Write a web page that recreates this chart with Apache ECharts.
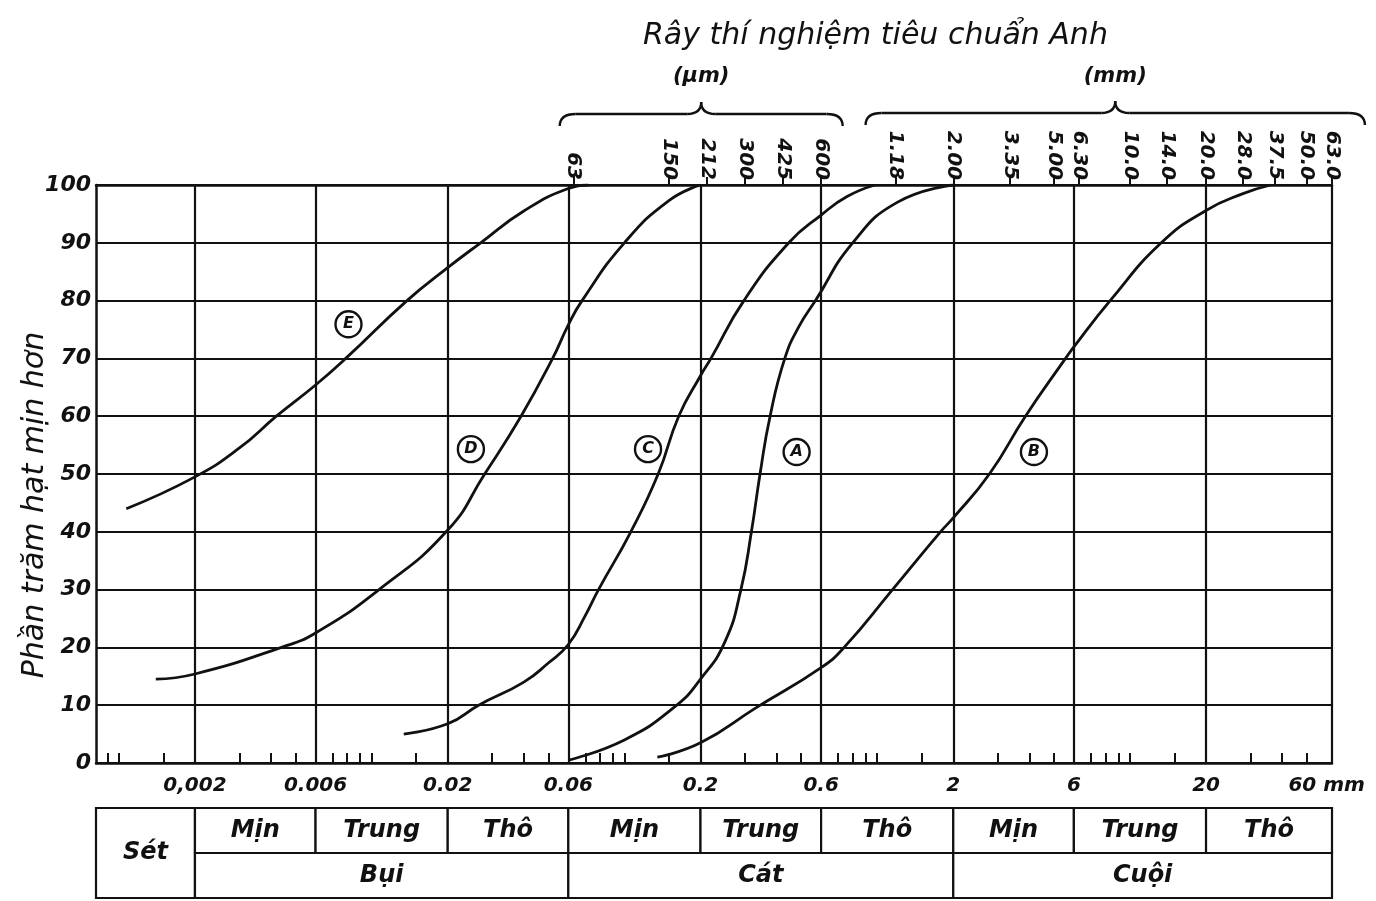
<!DOCTYPE html>
<html>
<head>
<meta charset="utf-8">
<title>Rây thí nghiệm tiêu chuẩn Anh</title>
<script src="https://cdn.jsdelivr.net/npm/echarts@6/dist/echarts.min.js"></script>
<style>
  html, body { margin: 0; padding: 0; background: #fff; }
  #chart { width: 1376px; height: 901px; }
</style>
</head>
<body>
<div id="chart"></div>
<script>
// grain size curves: [size in mm, % finer]
const curveA = [[0.06, 0.5], [0.1, 4], [0.158, 9.7], [0.2, 14.5], [0.25, 21], [0.289, 30], [0.318, 40], [0.344, 50], [0.377, 60], [0.431, 70], [0.49, 75.5], [0.57, 80], [0.8, 90], [1.2, 97], [2.0, 100]];
const curveB = [[0.135, 1], [0.2, 3.5], [0.33, 9.5], [0.6, 16.5], [0.74, 20], [1.15, 30], [1.78, 40], [2, 42.4], [2.78, 50], [3.86, 60], [5.56, 70], [6, 72], [8.35, 80], [13.3, 90], [20, 95.6], [28, 98.5], [36, 100]];
const curveC = [[0.0134, 5], [0.02, 6.8], [0.0265, 10], [0.04, 14], [0.05, 17.3], [0.06, 20.5], [0.07, 25.5], [0.079, 30], [0.106, 40], [0.136, 50], [0.164, 60], [0.2, 67], [0.22, 70], [0.297, 80], [0.447, 90], [0.6, 94.8], [0.76, 98], [0.98, 100]];
const curveD = [[0.0014, 14.5], [0.002, 15.4], [0.0044, 20], [0.006, 22.5], [0.0107, 30], [0.02, 40.3], [0.028, 50], [0.039, 60], [0.052, 70], [0.06, 75.8], [0.068, 80], [0.1, 90], [0.15, 97.3], [0.2, 100]];
const curveE = [[0.00107, 44], [0.002, 49.5], [0.003, 54.5], [0.0042, 60], [0.006, 65.4], [0.0079, 70], [0.0138, 80], [0.02, 85.7], [0.027, 90], [0.04, 95.5], [0.06, 99.4], [0.072, 100]];

// circled curve names
const markerNames = ['E', 'D', 'C', 'A', 'B'];
const markerSizes = [0.0081, 0.0247, 0.124, 0.48, 4.17];
const markerPercents = [75.9, 54.3, 54.3, 53.8, 53.8];

// bottom axis
const gridSizes = [0.002, 0.006, 0.02, 0.06, 0.2, 0.6, 2, 6, 20, 63];
const bottomLabelSizes = [0.002, 0.006, 0.02, 0.06, 0.2, 0.6, 2, 6, 20, 60];
const bottomLabels = ['0,002', '0.006', '0.02', '0.06', '0.2', '0.6', '2', '6', '20', '60 mm'];
const minorTicks = [0.0009, 0.001, 0.0015, 0.003, 0.004, 0.005, 0.007, 0.008, 0.009, 0.01, 0.015,
  0.03, 0.04, 0.05, 0.07, 0.08, 0.09, 0.1, 0.15, 0.3, 0.4, 0.5, 0.7, 0.8, 0.9, 1, 1.5,
  3, 4, 5, 7, 8, 9, 10, 15, 30, 40, 50];

// British standard sieves (top axis)
const sieveSizes = [0.063, 0.150, 0.212, 0.300, 0.425, 0.600, 1.18, 2.00, 3.35, 5.00, 6.30, 10.0, 14.0, 20.0, 28.0, 37.5, 50.0, 63.0];
const sieveLabels = ['63', '150', '212', '300', '425', '600', '1.18', '2.00', '3.35', '5.00', '6.30', '10.0', '14.0', '20.0', '28.0', '37.5', '50.0', '63.0'];

// classification table: [from mm, to mm, row from, row to]
const tableLabels = ['Sét', 'Mịn', 'Trung', 'Thô', 'Mịn', 'Trung', 'Thô', 'Mịn', 'Trung', 'Thô', 'Bụi', 'Cát', 'Cuội'];
const tableCells = [[0.000812, 0.002, 0, 2],
  [0.002, 0.006, 0, 1], [0.006, 0.02, 0, 1], [0.02, 0.06, 0, 1],
  [0.06, 0.2, 0, 1], [0.2, 0.6, 0, 1], [0.6, 2, 0, 1],
  [2, 6, 0, 1], [6, 20, 0, 1], [20, 63, 0, 1],
  [0.002, 0.06, 1, 2], [0.06, 2, 1, 2], [2, 63, 1, 2]];

const X_MIN = 0.000812;
const X_MAX = 63;
const FONT = "'DejaVu Sans', sans-serif";
const INK = '#111';

const lg = (v) => Math.log10(v);
const toXY = (pts) => pts.map(([d, p]) => [lg(d), p]);

// pick the label whose value is closest to the axis value
function labelFor(values, labels) {
  return (v) => {
    let best = 0;
    values.forEach((x, i) => {
      if (Math.abs(lg(x) - v) < Math.abs(lg(values[best]) - v)) best = i;
    });
    return labels[best];
  };
}

const chart = echarts.init(document.getElementById('chart'));

const curves = [['A', curveA], ['B', curveB], ['C', curveC], ['D', curveD], ['E', curveE]];

const option = {
  backgroundColor: '#fff',
  animation: false,
  title: {
    text: 'Rây thí nghiệm tiêu chuẩn Anh',
    left: 638,
    top: 16,
    textStyle: { fontFamily: FONT, fontStyle: 'italic', fontWeight: 'normal', fontSize: 30, color: INK },
  },
  grid: [
    { left: 96, right: 44, top: 185, bottom: 138 },
    { left: 96, right: 44, top: 808, height: 90 },
  ],
  xAxis: [
    {
      gridIndex: 0,
      type: 'value',
      position: 'bottom',
      min: lg(X_MIN),
      max: lg(X_MAX),
      axisLine: { onZero: false, lineStyle: { color: INK, width: 2.5 } },
      axisTick: {
        customValues: minorTicks.map(lg),
        inside: true,
        length: 10,
        lineStyle: { color: INK, width: 2 },
      },
      axisLabel: {
        customValues: bottomLabelSizes.map(lg),
        formatter: labelFor(bottomLabelSizes, bottomLabels),
        margin: 13,
        fontFamily: FONT,
        fontStyle: 'italic',
        fontWeight: 'bold',
        fontSize: 20,
        color: INK,
      },
      splitLine: { show: false },
    },
    {
      gridIndex: 0,
      type: 'value',
      position: 'top',
      min: lg(X_MIN),
      max: lg(X_MAX),
      axisLine: { onZero: false, lineStyle: { color: INK, width: 2.5 } },
      axisTick: {
        customValues: sieveSizes.map(lg),
        length: 8,
        lineStyle: { color: INK, width: 2 },
      },
      axisLabel: {
        customValues: sieveSizes.map(lg),
        formatter: labelFor(sieveSizes, sieveLabels),
        rotate: 90,
        margin: 5,
        fontFamily: FONT,
        fontStyle: 'italic',
        fontWeight: 'bold',
        fontSize: 20,
        color: INK,
      },
      splitLine: { show: false },
    },
    {
      // vertical grid lines only
      gridIndex: 0,
      type: 'value',
      position: 'bottom',
      min: lg(X_MIN),
      max: lg(X_MAX),
      axisLine: { show: false, onZero: false },
      axisTick: { show: false, customValues: gridSizes.map(lg) },
      axisLabel: { show: false },
      splitLine: { show: true, lineStyle: { color: INK, width: 2.2 } },
    },
    {
      gridIndex: 1,
      type: 'value',
      min: lg(X_MIN),
      max: lg(X_MAX),
      show: false,
    },
  ],
  yAxis: [
    {
      gridIndex: 0,
      type: 'value',
      min: 0,
      max: 100,
      interval: 10,
      axisLine: { show: true, onZero: false, lineStyle: { color: INK, width: 2.5 } },
      axisTick: { show: false },
      axisLabel: {
        margin: 5,
        fontFamily: FONT,
        fontStyle: 'italic',
        fontWeight: 'bold',
        fontSize: 22,
        color: INK,
      },
      splitLine: { show: true, lineStyle: { color: INK, width: 2 } },
    },
    { gridIndex: 1, type: 'value', min: 0, max: 2, inverse: true, show: false },
  ],
  series: [
    ...curves.map(([name, pts]) => ({
      name,
      type: 'line',
      xAxisIndex: 0,
      yAxisIndex: 0,
      data: toXY(pts),
      smooth: 0.5,
      showSymbol: false,
      lineStyle: { color: INK, width: 2.8 },
      z: 3,
    })),
    {
      name: 'labels',
      type: 'scatter',
      xAxisIndex: 0,
      yAxisIndex: 0,
      data: markerNames.map((n, i) => [lg(markerSizes[i]), markerPercents[i]]),
      symbol: 'circle',
      symbolSize: 26,
      itemStyle: { color: '#fff', borderColor: INK, borderWidth: 2.4, opacity: 1 },
      label: {
        show: true,
        position: 'inside',
        formatter: (p) => markerNames[p.dataIndex],
        fontFamily: FONT,
        fontStyle: 'italic',
        fontWeight: 'bold',
        fontSize: 16,
        color: INK,
      },
      z: 5,
    },
    {
      name: 'table',
      type: 'custom',
      xAxisIndex: 3,
      yAxisIndex: 1,
      data: tableCells.map(([a, b, r0, r1]) => [lg(a), lg(b), r0, r1]),
      renderItem: (params, api) => {
        const p0 = api.coord([api.value(0), api.value(2)]);
        const p1 = api.coord([api.value(1), api.value(3)]);
        return {
          type: 'group',
          children: [
            {
              type: 'rect',
              shape: { x: p0[0], y: p0[1], width: p1[0] - p0[0], height: p1[1] - p0[1] },
              style: { fill: '#fff', stroke: INK, lineWidth: 2.2 },
            },
            {
              type: 'text',
              style: {
                text: tableLabels[params.dataIndex],
                x: (p0[0] + p1[0]) / 2,
                y: (p0[1] + p1[1]) / 2,
                align: 'center',
                verticalAlign: 'middle',
                font: "italic bold 24px 'DejaVu Sans', sans-serif",
                fill: INK,
              },
            },
          ],
        };
      },
    },
  ],
};

chart.setOption(option);

// braces and unit labels above the sieve axis
const px = (mm) => chart.convertToPixel({ xAxisIndex: 1 }, lg(mm));
const braceStyle = { fill: 'none', stroke: INK, lineWidth: 2.4 };
function brace(x0, x1, yH) {
  const xm = (x0 + x1) / 2;
  const curve = (ax, ay, cx, cy, bx, by) => ({
    type: 'bezierCurve', shape: { x1: ax, y1: ay, cpx1: cx, cpy1: cy, x2: bx, y2: by }, style: braceStyle,
  });
  const line = (ax, bx) => ({ type: 'line', shape: { x1: ax, y1: yH, x2: bx, y2: yH }, style: braceStyle });
  return {
    type: 'group',
    children: [
      curve(x0, yH + 12, x0, yH, x0 + 16, yH),
      line(x0 + 16, xm - 14),
      curve(xm - 14, yH, xm, yH, xm, yH - 12),
      curve(xm, yH - 12, xm, yH, xm + 14, yH),
      line(xm + 14, x1 - 16),
      curve(x1 - 16, yH, x1, yH, x1, yH + 12),
    ],
  };
}
const umL = px(0.0555), umR = px(0.73);
const mmL = px(0.9), mmR = px(85);
const unitFont = "italic bold 21px 'DejaVu Sans', sans-serif";

chart.setOption({
  graphic: [
    brace(umL, umR, 114),
    brace(mmL, mmR, 113),
    { type: 'text', x: (umL + umR) / 2, y: 77, style: { text: '(µm)', font: unitFont, fill: INK, align: 'center', verticalAlign: 'middle' } },
    { type: 'text', x: (mmL + mmR) / 2, y: 77, style: { text: '(mm)', font: unitFont, fill: INK, align: 'center', verticalAlign: 'middle' } },
    {
      type: 'text', x: 35, y: 505, rotation: Math.PI / 2,
      style: { text: 'Phần trăm hạt mịn hơn', font: "italic 30px 'DejaVu Sans', sans-serif", fill: INK, align: 'center', verticalAlign: 'middle' },
    },
  ],
});

window.addEventListener('resize', () => chart.resize());
</script>
</body>
</html>
